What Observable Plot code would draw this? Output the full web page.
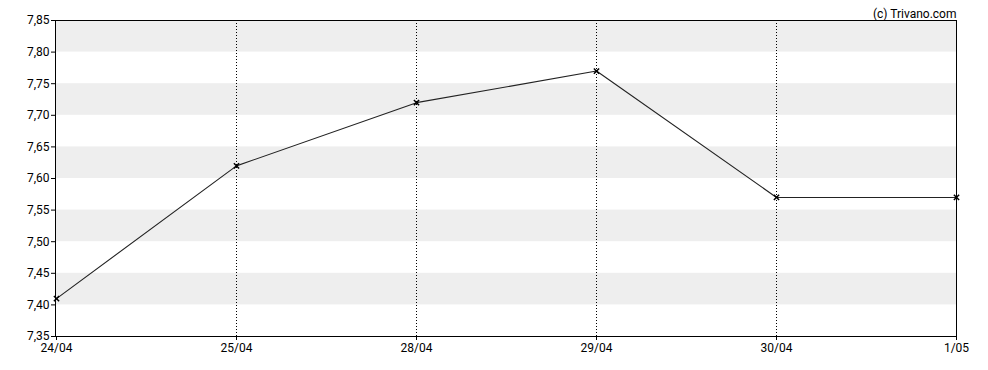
<!DOCTYPE html>
<html>
<head>
<meta charset="utf-8">
<script src="https://cdn.jsdelivr.net/npm/d3@7"></script>
<script src="https://cdn.jsdelivr.net/npm/@observablehq/plot@0.6"></script>
<style>
  html, body { margin: 0; padding: 0; background: #fff; }
  #chart svg { display: block; }
</style>
</head>
<body>
<div id="chart"></div>
<script>
const dates = ["24/04", "25/04", "28/04", "29/04", "30/04", "1/05"];
const prices = [7.41, 7.62, 7.72, 7.77, 7.57, 7.57];
const yTicks = [7.35, 7.40, 7.45, 7.50, 7.55, 7.60, 7.65, 7.70, 7.75, 7.80, 7.85];
const bandStarts = [7.40, 7.50, 7.60, 7.70, 7.80];
const bandWidth = 0.05;
const credit = "(c) Trivano.com";

const data = dates.map((d, i) => ({date: d, price: prices[i]}));
const bands = bandStarts.map(b => ({y1: b, y2: b + bandWidth}));
const innerDates = dates.slice(1, -1);
const fmt = d => d.toFixed(2).replace(".", ",");

const chart = Plot.plot({
  width: 988,
  height: 370,
  marginLeft: 55,
  marginRight: 32,
  marginTop: 20,
  marginBottom: 34,
  style: {fontFamily: "Roboto, sans-serif", fontSize: "12px", color: "#000", background: "#fff"},
  x: {type: "point", domain: dates, padding: 0, label: null},
  y: {domain: [7.35, 7.85], label: null},
  marks: [
    Plot.rect(bands, {y1: "y1", y2: "y2", fill: "#eeeeee"}),
    Plot.ruleX(innerDates, {stroke: "#000", strokeDasharray: "1,2", strokeWidth: 1}),
    Plot.frame({stroke: "#000", strokeWidth: 1}),
    Plot.axisY(yTicks, {tickSize: 4, tickPadding: 2, tickFormat: fmt, stroke: "#000", fill: "#000"}),
    Plot.axisX(dates, {tickSize: 4, tickPadding: 3, stroke: "#000", fill: "#000"}),
    Plot.line(data, {x: "date", y: "price", stroke: "#222", strokeWidth: 1.1}),
    Plot.dot(data, {x: "date", y: "price", symbol: "times", r: 2.5, stroke: "#000", strokeWidth: 1.5}),
    Plot.text([credit], {frameAnchor: "top-right", text: d => d, dy: -11, dx: 0, textAnchor: "end", fill: "#000"})
  ]
});
document.getElementById("chart").appendChild(chart);
</script>
</body>
</html>
